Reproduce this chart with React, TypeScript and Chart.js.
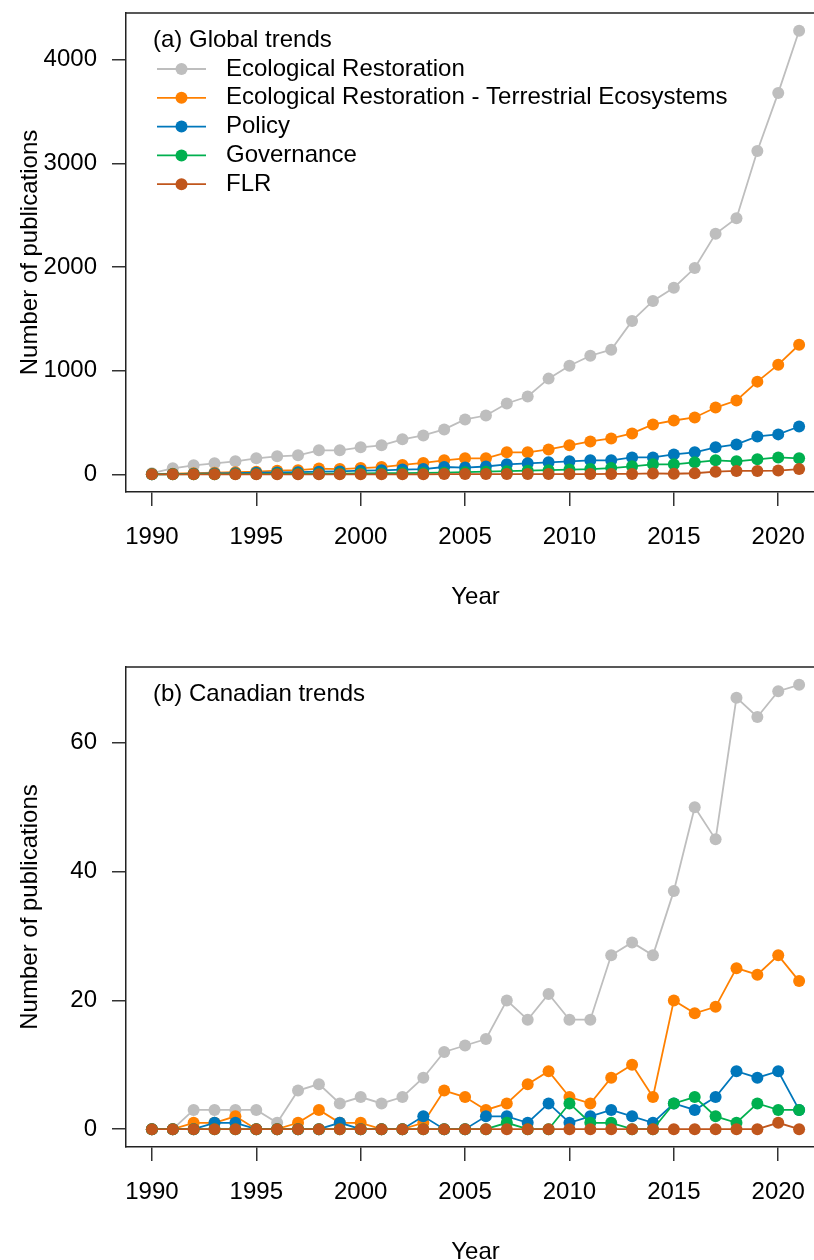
import React, { useEffect, useRef } from 'react';
import { Chart, registerables } from 'chart.js';

Chart.register(...registerables);

const years = [1990, 1991, 1992, 1993, 1994, 1995, 1996, 1997, 1998, 1999, 2000, 2001, 2002, 2003, 2004, 2005, 2006, 2007, 2008, 2009, 2010, 2011, 2012, 2013, 2014, 2015, 2016, 2017, 2018, 2019, 2020, 2021];
const xTicks = [1990, 1995, 2000, 2005, 2010, 2015, 2020];

const seriesNames = ['Ecological Restoration', 'Ecological Restoration - Terrestrial Ecosystems', 'Policy', 'Governance', 'FLR'];
const seriesColors = ['#BEBEBE', '#FF8000', '#0077BB', '#00B04F', '#C0561C'];

// (a) Global trends
const globalER = [10, 58, 86, 106, 125, 154, 173, 183, 231, 231, 260, 279, 337, 375, 433, 529, 567, 683, 750, 923, 1048, 1144, 1202, 1480, 1673, 1800, 1990, 2320, 2470, 3120, 3680, 4280];
const globalTerr = [2, 5, 10, 15, 20, 25, 35, 40, 55, 50, 60, 70, 90, 110, 135, 154, 154, 212, 212, 240, 279, 317, 346, 394, 481, 519, 548, 644, 712, 894, 1058, 1250];
const globalPolicy = [0, 2, 5, 8, 10, 15, 18, 20, 25, 28, 35, 38, 45, 50, 70, 65, 75, 96, 106, 115, 125, 135, 135, 163, 163, 192, 212, 260, 288, 365, 385, 461];
const globalGov = [0, 0, 1, 1, 2, 3, 4, 5, 6, 7, 9, 10, 12, 13, 15, 20, 25, 30, 35, 40, 45, 50, 60, 77, 96, 96, 115, 135, 125, 144, 163, 154];
const globalFLR = [0, 0, 0, 0, 0, 0, 0, 0, 0, 0, 0, 0, 0, 0, 2, 2, 2, 2, 2, 2, 2, 2, 3, 3, 8, 5, 10, 25, 32, 32, 36, 50];
const globalYTicks = [0, 1000, 2000, 3000, 4000];

// (b) Canadian trends
const canER = [0, 0, 3, 3, 3, 3, 1, 6, 7, 4, 5, 4, 5, 8, 12, 13, 14, 20, 17, 21, 17, 17, 27, 29, 27, 37, 50, 45, 67, 64, 68, 69];
const canTerr = [0, 0, 1, 1, 2, 0, 0, 1, 3, 1, 1, 0, 0, 1, 6, 5, 3, 4, 7, 9, 5, 4, 8, 10, 5, 20, 18, 19, 25, 24, 27, 23];
const canPolicy = [0, 0, 0, 1, 1, 0, 0, 0, 0, 1, 0, 0, 0, 2, 0, 0, 2, 2, 1, 4, 1, 2, 3, 2, 1, 4, 3, 5, 9, 8, 9, 3];
const canGov = [0, 0, 0, 0, 0, 0, 0, 0, 0, 0, 0, 0, 0, 0, 0, 0, 0, 1, 0, 0, 4, 1, 1, 0, 0, 4, 5, 2, 1, 4, 3, 3];
const canFLR = [0, 0, 0, 0, 0, 0, 0, 0, 0, 0, 0, 0, 0, 0, 0, 0, 0, 0, 0, 0, 0, 0, 0, 0, 0, 0, 0, 0, 0, 0, 1, 0];
const canYTicks = [0, 20, 40, 60];

const FONT = '"Liberation Sans", Arial, sans-serif';
const RADIUS = 6;
const LINE_W = 1.8;

type PanelProps = {
  title: string;
  series: number[][];
  showLegend: boolean;
  yMin: number;
  yMax: number;
  yTicks: number[];
  height: number;
  top: number;
  padTop: number;
  xHeight: number;
  titlePadBottom: number;
};

function Panel(p: PanelProps) {
  const ref = useRef<HTMLCanvasElement | null>(null);
  useEffect(() => {
    if (!ref.current) return;
    const datasets = p.series.map((vals, i) => ({
      label: seriesNames[i],
      data: vals.map((v, j) => ({ x: years[j], y: v })),
      borderColor: seriesColors[i],
      backgroundColor: seriesColors[i],
      pointBackgroundColor: seriesColors[i],
      pointBorderWidth: 0,
      pointRadius: RADIUS,
      borderWidth: LINE_W,
      tension: 0,
      order: 10 - i,
    }));
    const legendPlugin = {
      id: 'customLegend',
      afterDraw(chart: any) {
        const ctx = chart.ctx;
        const ca = chart.chartArea;
        ctx.save();
        ctx.strokeStyle = '#222';
        ctx.lineWidth = 1.5;
        ctx.beginPath();
        ctx.moveTo(ca.left, ca.top);
        ctx.lineTo(ca.right, ca.top);
        ctx.lineTo(ca.right, ca.bottom);
        ctx.stroke();
        ctx.fillStyle = '#000';
        ctx.font = `24px ${FONT}`;
        ctx.textBaseline = 'middle';
        ctx.textAlign = 'left';
        ctx.fillText(p.title, 153, ca.top + 27);
        if (p.showLegend) {
          seriesNames.forEach((name, i) => {
            const y = ca.top + 56 + i * 28.8;
            ctx.strokeStyle = seriesColors[i];
            ctx.lineWidth = LINE_W;
            ctx.beginPath();
            ctx.moveTo(157, y);
            ctx.lineTo(206, y);
            ctx.stroke();
            ctx.fillStyle = seriesColors[i];
            ctx.beginPath();
            ctx.arc(181.5, y, RADIUS, 0, Math.PI * 2);
            ctx.fill();
            ctx.fillStyle = '#000';
            ctx.fillText(name, 226, y);
          });
        }
        ctx.restore();
      },
    };
    const chart = new Chart(ref.current, {
      type: 'line',
      data: { datasets },
      plugins: [legendPlugin],
      options: {
        responsive: false,
        animation: false,
        devicePixelRatio: 1,
        layout: { padding: { top: p.padTop, right: 15, left: 0, bottom: 0 } },
        plugins: { legend: { display: false }, tooltip: { enabled: false }, title: { display: false } },
        scales: {
          x: {
            type: 'linear',
            min: 1988.76,
            max: 2022.24,
            afterBuildTicks: (s: any) => {
              s.ticks = xTicks.map((v) => ({ value: v }));
            },
            afterFit: (s: any) => {
              s.height = p.xHeight;
              s.paddingLeft = 0;
              s.paddingRight = 0;
            },
            grid: { drawOnChartArea: false, drawTicks: true, tickLength: 14, color: '#333', lineWidth: 1.5 },
            border: { display: true, color: '#222', width: 1.5 },
            ticks: { autoSkip: false, maxRotation: 0, padding: 17, color: '#000', font: { family: FONT, size: 24 }, callback: (v: any) => String(v) },
            title: { display: true, text: 'Year', color: '#000', font: { family: FONT, size: 24 }, padding: { top: 0, bottom: p.titlePadBottom } },
          },
          y: {
            type: 'linear',
            min: p.yMin,
            max: p.yMax,
            afterBuildTicks: (s: any) => {
              s.ticks = p.yTicks.map((v) => ({ value: v }));
            },
            afterFit: (s: any) => {
              s.width = 126;
              s.paddingTop = 0;
              s.paddingBottom = 0;
            },
            grid: { drawOnChartArea: false, drawTicks: true, tickLength: 14, color: '#333', lineWidth: 1.5 },
            border: { display: true, color: '#222', width: 1.5 },
            ticks: { padding: 15, color: '#000', font: { family: FONT, size: 24 }, callback: (v: any) => String(v) },
            title: { display: true, text: 'Number of publications', color: '#000', font: { family: FONT, size: 24 }, padding: { top: 15.6, bottom: 0 } },
          },
        },
      } as any,
    });
    return () => chart.destroy();
  }, []);
  return (
    <div style={{ position: 'absolute', left: 0, top: p.top, width: 840, height: p.height }}>
      <canvas ref={ref} width={840} height={p.height} style={{ display: 'block' }} />
    </div>
  );
}

export default function App() {
  return (
    <div style={{ position: 'absolute', left: 0, top: 0, width: 814, height: 1260, overflow: 'hidden', background: '#fff' }}>
      <Panel
        title="(a) Global trends"
        series={[globalER, globalTerr, globalPolicy, globalGov, globalFLR]}
        showLegend={true}
        yMin={-171}
        yMax={4451}
        yTicks={globalYTicks}
        height={630}
        top={0}
        padTop={13}
        xHeight={138}
        titlePadBottom={18.6}
      />
      <Panel
        title="(b) Canadian trends"
        series={[canER, canTerr, canPolicy, canGov, canFLR]}
        showLegend={false}
        yMin={-2.76}
        yMax={71.76}
        yTicks={canYTicks}
        height={640}
        top={630}
        padTop={37}
        xHeight={123}
        titlePadBottom={3.6}
      />
    </div>
  );
}
